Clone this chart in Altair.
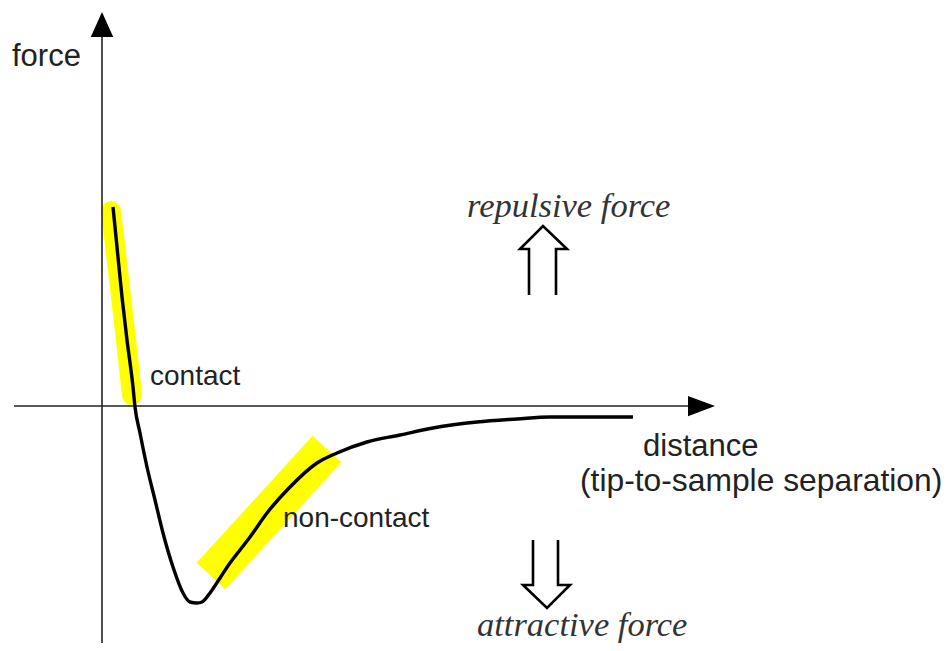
import altair as alt
import pandas as pd

# Force-distance curve (distance units, force units)
curve_d = [0.11, 0.15, 0.20, 0.25, 0.31, 0.33, 0.38, 0.45, 0.53, 0.61, 0.71, 0.81, 0.88, 0.95,
           1.00, 1.08, 1.18, 1.28, 1.38, 1.48, 1.65, 1.88, 2.15, 2.35, 2.65, 2.98, 3.31, 3.75,
           4.15, 4.48, 4.98, 5.31]
curve_f = [1.99, 1.59, 1.09, 0.66, 0.19, -0.01, -0.27, -0.61, -0.94, -1.27, -1.61, -1.87, -1.96,
           -1.97, -1.96, -1.87, -1.72, -1.57, -1.44, -1.31, -1.07, -0.81, -0.57, -0.47, -0.36,
           -0.29, -0.22, -0.16, -0.13, -0.11, -0.11, -0.11]

# Highlight bands
contact_d = [0.09, 0.16, 0.24, 0.30]
contact_f = [1.95, 1.36, 0.66, 0.11]
noncontact_d = [1.09, 2.25]
noncontact_f = [-1.70, -0.43]

# Hollow block arrows
up_d = [4.27, 4.27, 4.18, 4.41, 4.65, 4.54, 4.54]
up_f = [1.11, 1.57, 1.57, 1.80, 1.57, 1.57, 1.11]
down_d = [4.31, 4.31, 4.21, 4.45, 4.68, 4.56, 4.56]
down_f = [-1.34, -1.79, -1.79, -2.02, -1.79, -1.79, -1.34]

# Axes
vaxis_d = [0.0, 0.0]
vaxis_f = [-2.40, 3.70]
haxis_d = [-0.88, 5.88]
haxis_f = [0.0, 0.0]

# Labels
sans_labels = ["force", "distance", "(tip-to-sample separation)"]
sans_d = [-0.90, 5.41, 4.78]
sans_f = [3.40, -0.50, -0.85]
sans_size = [31, 31, 31.8]
small_labels = ["contact", "non-contact"]
small_d = [0.48, 1.81]
small_f = [0.21, -1.21]
serif_labels = ["repulsive force", "attractive force"]
serif_d = [3.65, 3.75]
serif_f = [1.89, -2.30]

xs = alt.Scale(domain=[-0.94, 8.41], nice=False, zero=False)
ys = alt.Scale(domain=[-2.37, 3.98], nice=False, zero=False)


def enc(ch, order=True):
    e = dict(x=alt.X("d:Q", scale=xs, axis=None), y=alt.Y("f:Q", scale=ys, axis=None))
    if order:
        e["order"] = alt.Order("i:Q")
    return ch.encode(**e)


def df(d, f):
    return pd.DataFrame({"d": d, "f": f, "i": list(range(len(d)))})


layers = []
layers.append(enc(alt.Chart(df(contact_d, contact_f)).mark_line(
    color="#FFFF00", strokeWidth=20, strokeCap="round", strokeJoin="round", interpolate="monotone")))
layers.append(enc(alt.Chart(df(noncontact_d, noncontact_f)).mark_line(
    color="#FFFF00", strokeWidth=39, strokeCap="butt")))
layers.append(enc(alt.Chart(df(vaxis_d, vaxis_f)).mark_line(color="#222222", strokeWidth=1.6)))
layers.append(enc(alt.Chart(df(haxis_d, haxis_f)).mark_line(color="#222222", strokeWidth=1.6)))
layers.append(enc(alt.Chart(pd.DataFrame({"d": [0.0], "f": [3.815]})).mark_point(
    shape="M0,-1L-0.9,1L0.9,1Z", size=625, filled=True, color="#000000", opacity=1), order=False))
layers.append(enc(alt.Chart(pd.DataFrame({"d": [5.995], "f": [0.0]})).mark_point(
    shape="M1,0L-1,-0.75L-1,0.75Z", size=729, filled=True, color="#000000", opacity=1), order=False))
layers.append(enc(alt.Chart(df(curve_d, curve_f)).mark_line(
    color="#000000", strokeWidth=3.4, interpolate="monotone")))
layers.append(enc(alt.Chart(df(up_d, up_f)).mark_line(
    color="#000000", strokeWidth=2.6, strokeJoin="miter")))
layers.append(enc(alt.Chart(df(down_d, down_f)).mark_line(
    color="#000000", strokeWidth=2.6, strokeJoin="miter")))

sans_df = pd.DataFrame({"d": sans_d, "f": sans_f, "t": sans_labels, "s": sans_size})
layers.append(enc(alt.Chart(sans_df).mark_text(
    align="left", baseline="alphabetic", font="Liberation Sans", color="#222222"),
    order=False).encode(text="t:N", size=alt.Size("s:Q", scale=None, legend=None)))
small_df = pd.DataFrame({"d": small_d, "f": small_f, "t": small_labels})
layers.append(enc(alt.Chart(small_df).mark_text(
    align="left", baseline="alphabetic", font="Liberation Sans", fontSize=28, color="#222222"),
    order=False).encode(text="t:N"))
serif_df = pd.DataFrame({"d": serif_d, "f": serif_f, "t": serif_labels})
layers.append(enc(alt.Chart(serif_df).mark_text(
    align="left", baseline="alphabetic", font="Liberation Serif", fontStyle="italic",
    fontSize=34.5, color="#333333"), order=False).encode(text="t:N"))

chart = alt.layer(*layers).properties(
    width=935, height=635, padding=0, autosize=alt.AutoSizeParams(type="none")
).configure_view(stroke=None)

chart.save("out.html", embed_options={"renderer": "svg", "actions": False})
